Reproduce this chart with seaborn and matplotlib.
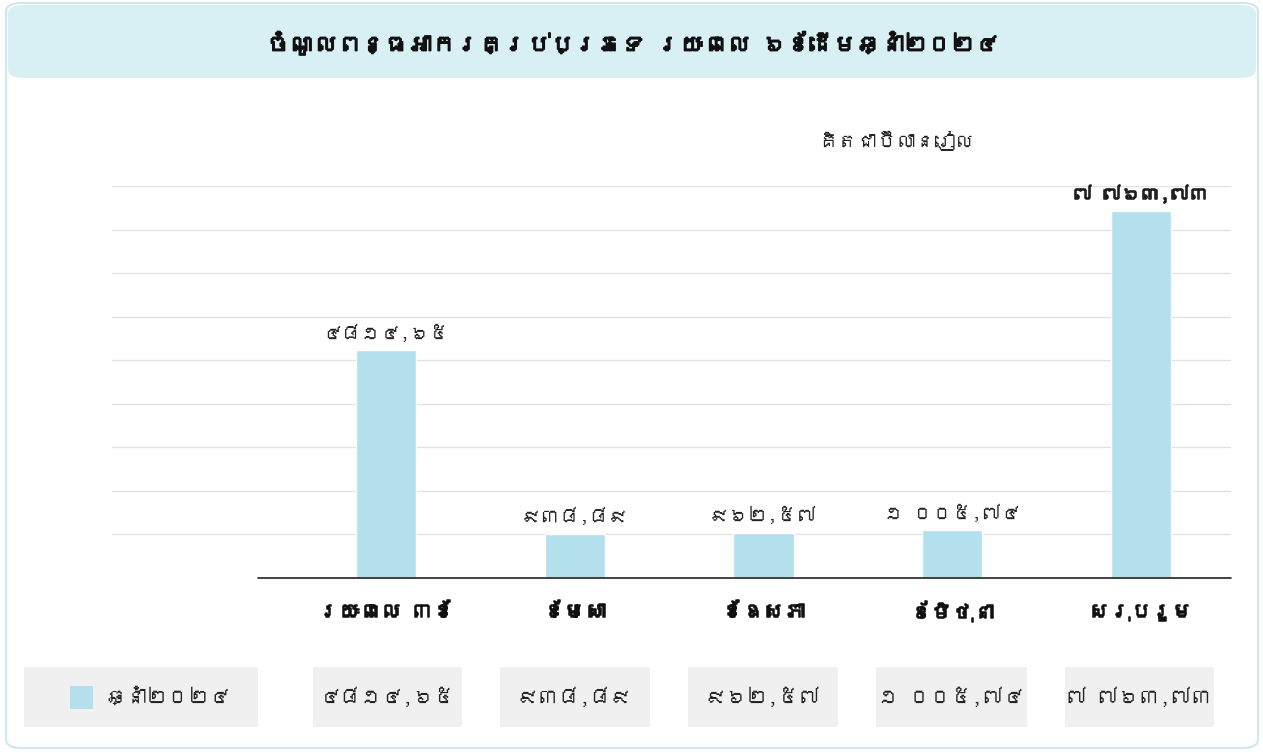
import matplotlib
matplotlib.use("Agg")
import matplotlib.pyplot as plt
from matplotlib import font_manager
from matplotlib.ft2font import FT2Font
from matplotlib.patches import FancyBboxPatch
import matplotlib.patheffects as pe
import seaborn as sns
import pandas as pd

# ---------------- data ----------------
title = "ចំណូលពន្ធអាករគ្រប់ប្រភេទ រយៈពេល ៦ខែដើមឆ្នាំ២០២៤"
unit_label = "គិតជាប៊ីលានរៀល"
categories = ["រយៈពេល ៣ខែ", "ខែមេសា", "ខែឧសភា", "ខែមិថុនា", "សរុបរួម"]
values = [4814.65, 938.89, 962.57, 1005.74, 7763.73]
value_labels = ["៤៨១៤,៦៥", "៩៣៨,៨៩", "៩៦២,៥៧", "១ ០០៥,៧៤", "៧ ៧៦៣,៧៣"]
series_name = "ឆ្នាំ២០២៤"

# ---------------- fonts ----------------
sns.set_theme(style="white")
khmer_fonts = []
for fe in font_manager.fontManager.ttflist:
    try:
        f = FT2Font(fe.fname)
        if 0x1780 in f.get_charmap():
            if fe.name not in khmer_fonts:
                khmer_fonts.append(fe.name)
    except Exception:
        pass
families = khmer_fonts + ["DejaVu Sans"]
plt.rcParams["font.family"] = families

BAR = "#b3e0ec"
BAND = "#d8f0f4"
CELL = "#f0f0f0"
BOLD = [pe.withStroke(linewidth=1.1, foreground="#111111")]

W, H = 1263, 753
fig = plt.figure(figsize=(W / 100, H / 100), dpi=100)

def fx(px):
    return px / W

def fy(py):
    return 1 - py / H

# outer frame
frame = FancyBboxPatch((fx(6), fy(748)), fx(1252), 745 / H,
                       boxstyle="round,pad=0,rounding_size=0.012",
                       transform=fig.transFigure, facecolor="white",
                       edgecolor="#cde8ee", linewidth=1.5, zorder=-3)
fig.patches.append(frame)
band = FancyBboxPatch((fx(8), fy(78)), fx(1248), 73 / H,
                      boxstyle="round,pad=0,rounding_size=0.012",
                      transform=fig.transFigure, facecolor=BAND,
                      edgecolor="none", zorder=-2)
fig.patches.append(band)
fig.text(fx(633), fy(43), title, ha="center", va="center",
         fontsize=17, fontweight="bold", color="#111111", path_effects=BOLD)
fig.text(fx(896), fy(141), unit_label, ha="center", va="center",
         fontsize=14, color="#222222")

# ---------------- bar chart ----------------
ax_left, ax_right, ax_top, ax_bottom = 112, 1231, 186, 578
ax = fig.add_axes([fx(ax_left), fy(ax_bottom), fx(ax_right - ax_left),
                   (ax_bottom - ax_top) / H])
ax.set_zorder(2)
ax.patch.set_alpha(0)
df = pd.DataFrame({"cat": categories, "val": values})
sns.barplot(data=df, x="cat", y="val", color=BAR, width=0.318,
            saturation=1, ax=ax, zorder=3)

px_per_unit = 188.75
first_center = 386
ax.set_xlim(-(first_center - ax_left) / px_per_unit,
            4 + (ax_right - 1141) / px_per_unit)
ymax = 8293
ax.set_ylim(0, ymax)
ax.set_yticks([ymax * k / 9 for k in range(1, 10)])
ax.yaxis.grid(True, color="#e2e2e2", linewidth=1)
ax.set_axisbelow(True)
for s in ax.spines.values():
    s.set_visible(False)
ax.set_yticklabels([])
ax.tick_params(left=False, bottom=False)
ax.set_xticklabels([])
ax.set_xlabel("")
ax.set_ylabel("")
# baseline
ax.plot([-(first_center - 258) / px_per_unit, ax.get_xlim()[1]], [0, 0],
        color="#222222", linewidth=1.2, clip_on=False, zorder=4)

for i, (v, lab) in enumerate(zip(values, value_labels)):
    bold = i == len(values) - 1
    ax.annotate(lab, (i, v), xytext=(0, 6), textcoords="offset points",
                ha="center", va="bottom", fontsize=14,
                fontweight="bold" if bold else "normal", color="#222222",
                path_effects=BOLD if bold else None)
    fig.text(fx(first_center + i * px_per_unit), fy(612), categories[i],
             ha="center", va="center", fontsize=15, fontweight="bold",
             color="#111111", path_effects=BOLD)

# ---------------- table row ----------------
cells = [(24, 258), (313, 462), (500, 650), (688, 838), (876, 1027), (1065, 1214)]
for j, (x0, x1) in enumerate(cells):
    rect = FancyBboxPatch((fx(x0), fy(727)), fx(x1 - x0), 60 / H,
                          boxstyle="round,pad=0,rounding_size=0.002",
                          transform=fig.transFigure, facecolor=CELL,
                          edgecolor="none", zorder=1)
    fig.patches.append(rect)
    if j == 0:
        sw = plt.Rectangle((fx(70), fy(709)), fx(23), 23 / H,
                           transform=fig.transFigure, facecolor=BAR,
                           edgecolor="none", zorder=2)
        fig.patches.append(sw)
        fig.text(fx(105), fy(697), series_name, ha="left", va="center",
                 fontsize=15, color="#222222")
    else:
        fig.text(fx((x0 + x1) / 2), fy(697), value_labels[j - 1],
                 ha="center", va="center", fontsize=15, color="#222222")

fig.savefig("out.png", dpi=100)
